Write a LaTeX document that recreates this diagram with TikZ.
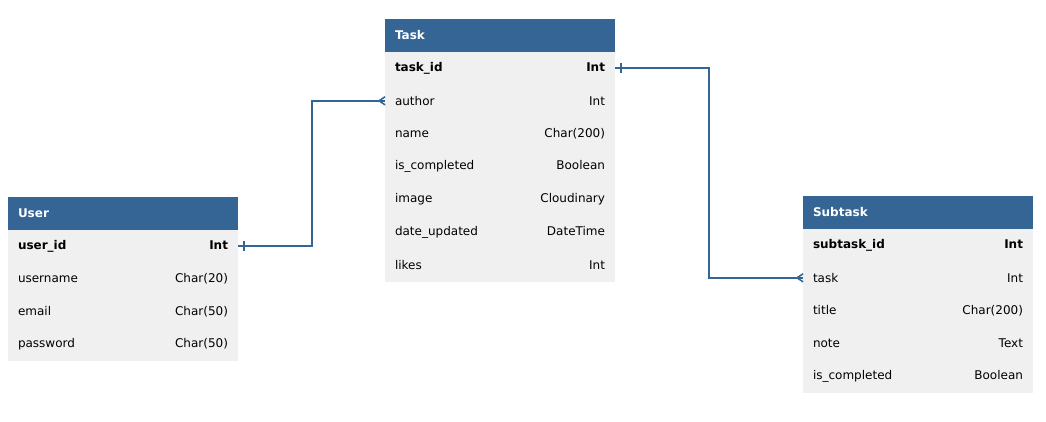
\documentclass[tikz,border=0pt]{standalone}
\usepackage{fontspec}
\setmainfont{DejaVu Sans}
\usetikzlibrary{positioning,decorations.markings}
\definecolor{hdblue}{RGB}{53,101,148}
\definecolor{rowgray}{RGB}{240,240,240}

\begin{document}
\begin{tikzpicture}[x=1pt,y=-1pt,
    font=\fontsize{12}{14}\selectfont,
    head/.style={fill=hdblue,text=white,font=\fontsize{12}{14}\selectfont\bfseries,
        minimum width=230pt,minimum height=32.5pt,text width=210pt,
        inner xsep=10pt,inner ysep=0pt,outer sep=0pt,anchor=north west},
    row/.style={fill=rowgray,minimum width=230pt,minimum height=32.86pt,
        text width=210pt,inner xsep=10pt,inner ysep=0pt,outer sep=0pt,below=0pt of #1},
    link/.style={draw=hdblue,line width=1.5pt},
    onebar/.style={postaction={decorate},decoration={markings,
        mark=at position 6pt with {\draw[hdblue,line width=1.5pt] (0,-5pt) -- (0,5pt);}}},
    crowfoot/.style={postaction={decorate},decoration={markings,
        mark=at position 1 with {\draw[hdblue,line width=1.3pt] (-6pt,0) -- (0,4pt) (-6pt,0) -- (0,-4pt);}}}
]
    \useasboundingbox (0,0) rectangle (1046,421);

    % Task
    \node[head] (task) at (385,19) {Task};
    \node[row=task] (t1) {\textbf{task\_id}\hfill\textbf{Int}};
    \node[row=t1] (t2) {author\hfill Int};
    \node[row=t2] (t3) {name\hfill Char(200)};
    \node[row=t3] (t4) {is\_completed\hfill Boolean};
    \node[row=t4] (t5) {image\hfill Cloudinary};
    \node[row=t5] (t6) {date\_updated\hfill DateTime};
    \node[row=t6] (t7) {likes\hfill Int};

    % User
    \node[head] (user) at (8,197) {User};
    \node[row=user] (u1) {\textbf{user\_id}\hfill\textbf{Int}};
    \node[row=u1] (u2) {username\hfill Char(20)};
    \node[row=u2] (u3) {email\hfill Char(50)};
    \node[row=u3] (u4) {password\hfill Char(50)};

    % Subtask
    \node[head] (subtask) at (803,196) {Subtask};
    \node[row=subtask] (s1) {\textbf{subtask\_id}\hfill\textbf{Int}};
    \node[row=s1] (s2) {task\hfill Int};
    \node[row=s2] (s3) {title\hfill Char(200)};
    \node[row=s3] (s4) {note\hfill Text};
    \node[row=s4] (s5) {is\_completed\hfill Boolean};

    % relations
    \draw[link,onebar,crowfoot] (u1.east) -- ++(74,0) |- (t2.west);
    \draw[link,onebar,crowfoot] (t1.east) -- ++(94,0) |- (s2.west);
\end{tikzpicture}
\end{document}
